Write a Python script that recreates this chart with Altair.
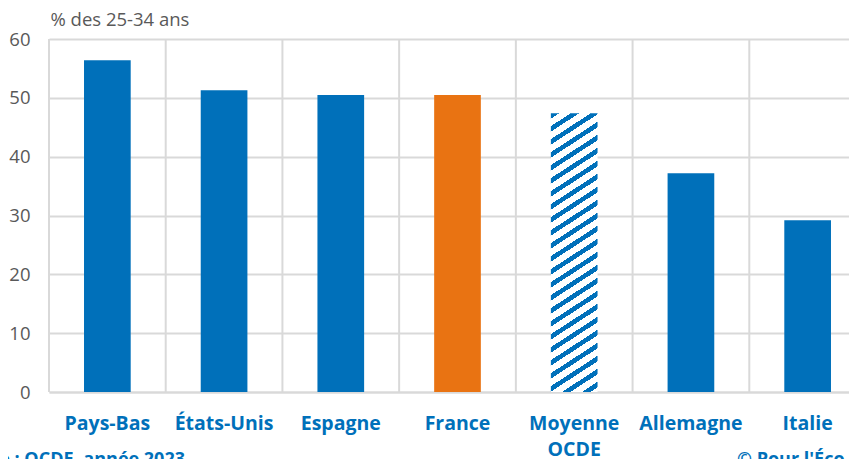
import math
import altair as alt
import pandas as pd

# ---------------- data ----------------
categories = ["Pays-Bas", "États-Unis", "Espagne", "France", "Moyenne OCDE", "Allemagne", "Italie"]
values = [56.4, 51.3, 50.5, 50.5, 47.4, 37.2, 29.2]
kinds = ["pays", "pays", "pays", "france", "ocde", "pays", "pays"]
y_ticks = [0, 10, 20, 30, 40, 50, 60]
axis_title = "% des 25-34 ans"
source_text = ["Source : OCDE, année 2023"]
credit_text = ["© Pour l'Éco"]

# ---------------- style ----------------
BLUE = "#0070BA"
ORANGE = "#E97312"
GRID = "#D9D9D9"
GRAY = "#595959"
FONT = "Open Sans"

W, H = 800, 353
RANGE_W = 817
N = len(categories)
PAD_IN, PAD_OUT = 0.6, 0.3
STEP = RANGE_W / (N - PAD_IN + 2 * PAD_OUT)
YMAX = 60

df = pd.DataFrame({"cat": categories, "val": values, "kind": kinds})
df_main = df[df["kind"] != "ocde"]
df_ocde = df[df["kind"] == "ocde"]

xscale = alt.Scale(domain=categories, range=[0, RANGE_W], paddingInner=PAD_IN, paddingOuter=PAD_OUT)
yscale = alt.Scale(domain=[0, YMAX], nice=False)

# hatch fill (diagonal stripes) built as a hard-stop linear gradient
bar_w = STEP * (1 - PAD_IN)
bar_h = df_ocde["val"].iloc[0] / YMAX * H
s = 0.65                 # stripe slope
period = 10.9            # perpendicular period in px
blue_part = 4.6          # stripe thickness in px
t = (s / bar_h + 1 / bar_w) / (s * s / bar_h ** 2 + 1 / bar_w ** 2)
gx2, gy2 = t * s / bar_h, t / bar_w
D = (s * bar_w + bar_h) / math.sqrt(1 + s * s)
stops = []
k = 0
while k * period < D:
    a = k * period / D
    b = min((k * period + blue_part) / D, 1.0)
    c = min((k + 1) * period / D, 1.0)
    stops += [alt.GradientStop(color=BLUE, offset=a), alt.GradientStop(color=BLUE, offset=b),
              alt.GradientStop(color="#FFFFFF", offset=b), alt.GradientStop(color="#FFFFFF", offset=c)]
    k += 1
hatch = alt.Gradient(gradient="linear", stops=stops, x1=0, y1=0, x2=gx2, y2=gy2)

x_enc = alt.X(
    "cat:N", scale=xscale, sort=None, title=None,
    axis=alt.Axis(
        labelFont=FONT, labelFontSize=19.5, labelFontWeight="bold", labelColor=BLUE,
        labelAngle=0, labelAlign="center", labelPadding=22, labelLineHeight=26, ticks=False,
        domainColor=GRID, domainWidth=2,
        labelExpr="datum.label == 'Moyenne OCDE' ? ['Moyenne', 'OCDE'] : datum.label",
    ),
)
y_enc = alt.Y(
    "val:Q", scale=yscale,
    axis=alt.Axis(
        values=y_ticks, title=axis_title, titleAngle=0, titleAlign="left", titleBaseline="alphabetic",
        titleX=1, titleY=-14, titleFont=FONT, titleFontSize=18.5, titleFontWeight="normal", titleColor=GRAY,
        labelFont=FONT, labelFontSize=18.5, labelColor=GRAY, labelPadding=19,
        ticks=False, domain=False, grid=True, gridColor=GRID, gridWidth=2,
    ),
)

vgrid = alt.Chart(df).mark_rule(color=GRID, strokeWidth=2, xOffset=-STEP / 2).encode(
    x=alt.X("cat:N", scale=xscale, sort=None, title=None),
    y=alt.value(0), y2=alt.value(H),
)

bars = alt.Chart(df_main).mark_bar().encode(
    x=x_enc, y=y_enc,
    color=alt.Color("kind:N", scale=alt.Scale(domain=["pays", "france"], range=[BLUE, ORANGE]), legend=None),
)

ocde = alt.Chart(df_ocde).mark_bar(fill=hatch).encode(x=x_enc, y=y_enc)

src = alt.Chart(pd.DataFrame({"t": source_text})).mark_text(
    align="right", baseline="alphabetic", font=FONT, fontSize=18, fontWeight="bold", color=BLUE
).encode(text="t:N", x=alt.value(136), y=alt.value(426))

cred = alt.Chart(pd.DataFrame({"t": credit_text})).mark_text(
    align="left", baseline="alphabetic", font=FONT, fontSize=18, fontWeight="bold", color=BLUE
).encode(text="t:N", x=alt.value(688), y=alt.value(426))

chart = alt.layer(bars, vgrid, ocde, src, cred).properties(
    width=W, height=H,
    autosize=alt.AutoSizeParams(type="none"),
    padding={"left": 41, "top": 31, "right": 0, "bottom": 67},
).configure_view(stroke=None)

chart.save("out.html", embed_options={"renderer": "svg", "actions": False})
